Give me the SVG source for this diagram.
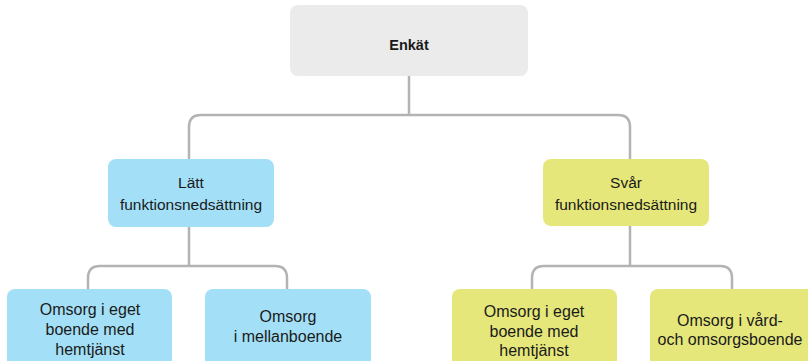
<svg xmlns="http://www.w3.org/2000/svg" width="808" height="361" viewBox="0 0 808 361">
<style>
.box{stroke:none}
.gray{fill:#ebebeb}
.blue{fill:#a3e0f7}
.yellow{fill:#e5e77b}
.conn{fill:none;stroke:#b3b3b3;stroke-width:2.5}
text{font-family:"Liberation Sans",Arial,sans-serif;fill:#1a1a1a;text-anchor:middle}
.mid{font-size:15.5px}
.low{font-size:16px}
.title{font-size:14.5px;font-weight:bold}
</style>
<rect width="808" height="361" fill="#ffffff"/>
<g id="connectors">
<path class="conn" d="M409,76 V115"/>
<path class="conn" d="M189,159 V127 Q189,115 201,115 H618 Q630,115 630,127 V159"/>
<path class="conn" d="M189,227 V266"/>
<path class="conn" d="M88,289 V278 Q88,266 100,266 H275 Q287,266 287,278 V289"/>
<path class="conn" d="M630,226 V266"/>
<path class="conn" d="M532,289 V278 Q532,266 544,266 H720 Q732,266 732,278 V289"/>
</g>
<g id="enkat">
<rect class="box gray" x="290" y="5" width="238" height="71" rx="8"/>
<text class="title" x="409" y="50">Enkät</text>
</g>
<g id="latt">
<rect class="box blue" x="108" y="159" width="166" height="68" rx="8"/>
<text class="mid" x="191" y="188">Lätt</text>
<text class="mid" x="191" y="210">funktionsnedsättning</text>
</g>
<g id="svar">
<rect class="box yellow" x="543" y="159" width="166" height="67" rx="8"/>
<text class="mid" x="626" y="188">Svår</text>
<text class="mid" x="626" y="210">funktionsnedsättning</text>
</g>
<g id="latt-eget">
<rect class="box blue" x="7" y="289" width="165" height="82" rx="8"/>
<text class="low" x="90" y="315">Omsorg i eget</text>
<text class="low" x="90" y="335">boende med</text>
<text class="low" x="90" y="355">hemtjänst</text>
</g>
<g id="latt-mellan">
<rect class="box blue" x="205" y="289" width="166" height="82" rx="8"/>
<text class="low" x="288" y="322">Omsorg</text>
<text class="low" x="288" y="342">i mellanboende</text>
</g>
<g id="svar-eget">
<rect class="box yellow" x="452" y="289" width="165" height="82" rx="8"/>
<text class="low" x="534" y="317">Omsorg i eget</text>
<text class="low" x="534" y="337">boende med</text>
<text class="low" x="534" y="356">hemtjänst</text>
</g>
<g id="svar-vard">
<rect class="box yellow" x="650" y="289" width="166" height="82" rx="8"/>
<text class="low" x="730" y="326">Omsorg i vård-</text>
<text class="low" x="730" y="345">och omsorgsboende</text>
</g>
</svg>
